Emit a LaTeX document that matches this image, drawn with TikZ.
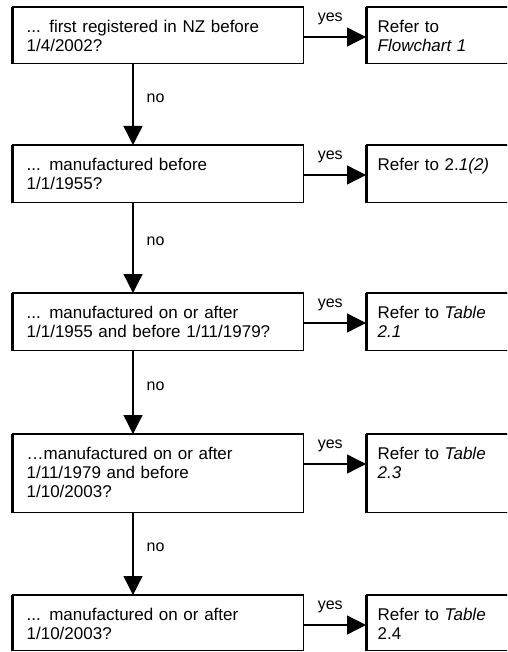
\documentclass[tikz,border=0pt]{standalone}
\usepackage{fontspec}
\setmainfont{Liberation Sans}
\usepackage{tikz}
\usetikzlibrary{arrows.meta, positioning}

\tikzset{
  qbox/.style={draw, line width=1.3pt, anchor=north west, align=left,
    text width=263pt, inner xsep=14pt, inner ysep=11pt,
    text height=14pt, text depth=#1},
  rbox/.style={qbox=#1, text width=138pt, inner xsep=11pt},
  flowarrow/.style={line width=1.3pt, -{Triangle[length=19pt, width=19pt]}},
  yeslbl/.style={above=10pt, pos=0.42, inner sep=2pt, font=\fontsize{16}{19}\selectfont},
  nolbl/.style={right=11pt, pos=0.42, inner sep=2pt, font=\fontsize{16}{19}\selectfont}
}

\begin{document}
\begin{tikzpicture}[x=1pt, y=-1pt, font=\fontsize{17}{19}\selectfont]
  \useasboundingbox (0,0) rectangle (507,652);
  \clip (0,0) rectangle (507,652);

  % Questions
  \node[qbox=20pt] (q1) at (12,7) {... first registered in NZ before\\1/4/2002?};
  \node[qbox=21pt] (q2) at (12,145) {... manufactured before\\1/1/1955?};
  \node[qbox=21pt] (q3) at (12,293) {... manufactured on or after\\1/1/1955 and before 1/11/1979?};
  \node[qbox=42pt] (q4) at (12,434) {…manufactured on or after\\1/11/1979 and before\\1/10/2003?};
  \node[qbox=19pt] (q5) at (12,595) {... manufactured on or after\\1/10/2003?};

  % Where to look
  \node[rbox=20pt] (r1) at (366,7) {Refer to\\\textit{Flowchart 1}};
  \node[rbox=21pt] (r2) at (366,145) {Refer to 2.\textit{1(2)}};
  \node[rbox=21pt] (r3) at (366,293) {Refer to \textit{Table}\\\textit{2.1}};
  \node[rbox=42pt] (r4) at (366,434) {Refer to \textit{Table}\\\textit{2.3}};
  \node[rbox=19pt] (r5) at (366,595) {Refer to \textit{Table}\\2.4};

  % heavy left and top edges
  \foreach \n in {q1,q2,q3,q4,q5,r1,r2,r3,r4,r5} {
    \draw[line width=3.4pt] ([xshift=0.4pt]\n.south west) -- ([xshift=0.4pt]\n.north west);
    \draw[line width=2.4pt] (\n.north west) -- (\n.north east);
  }

  % yes branches
  \foreach \i in {1,...,5}
    \draw[flowarrow] ([yshift=-30pt]q\i.north east) -- node[yeslbl] {yes} ([yshift=-30pt]r\i.north west);

  % no branches
  \coordinate (spine) at (133,0);
  \foreach \a/\b in {1/2, 2/3, 3/4, 4/5}
    \draw[flowarrow] (q\a.south -| spine) -- node[nolbl] {no} (q\b.north -| spine);
\end{tikzpicture}
\end{document}
